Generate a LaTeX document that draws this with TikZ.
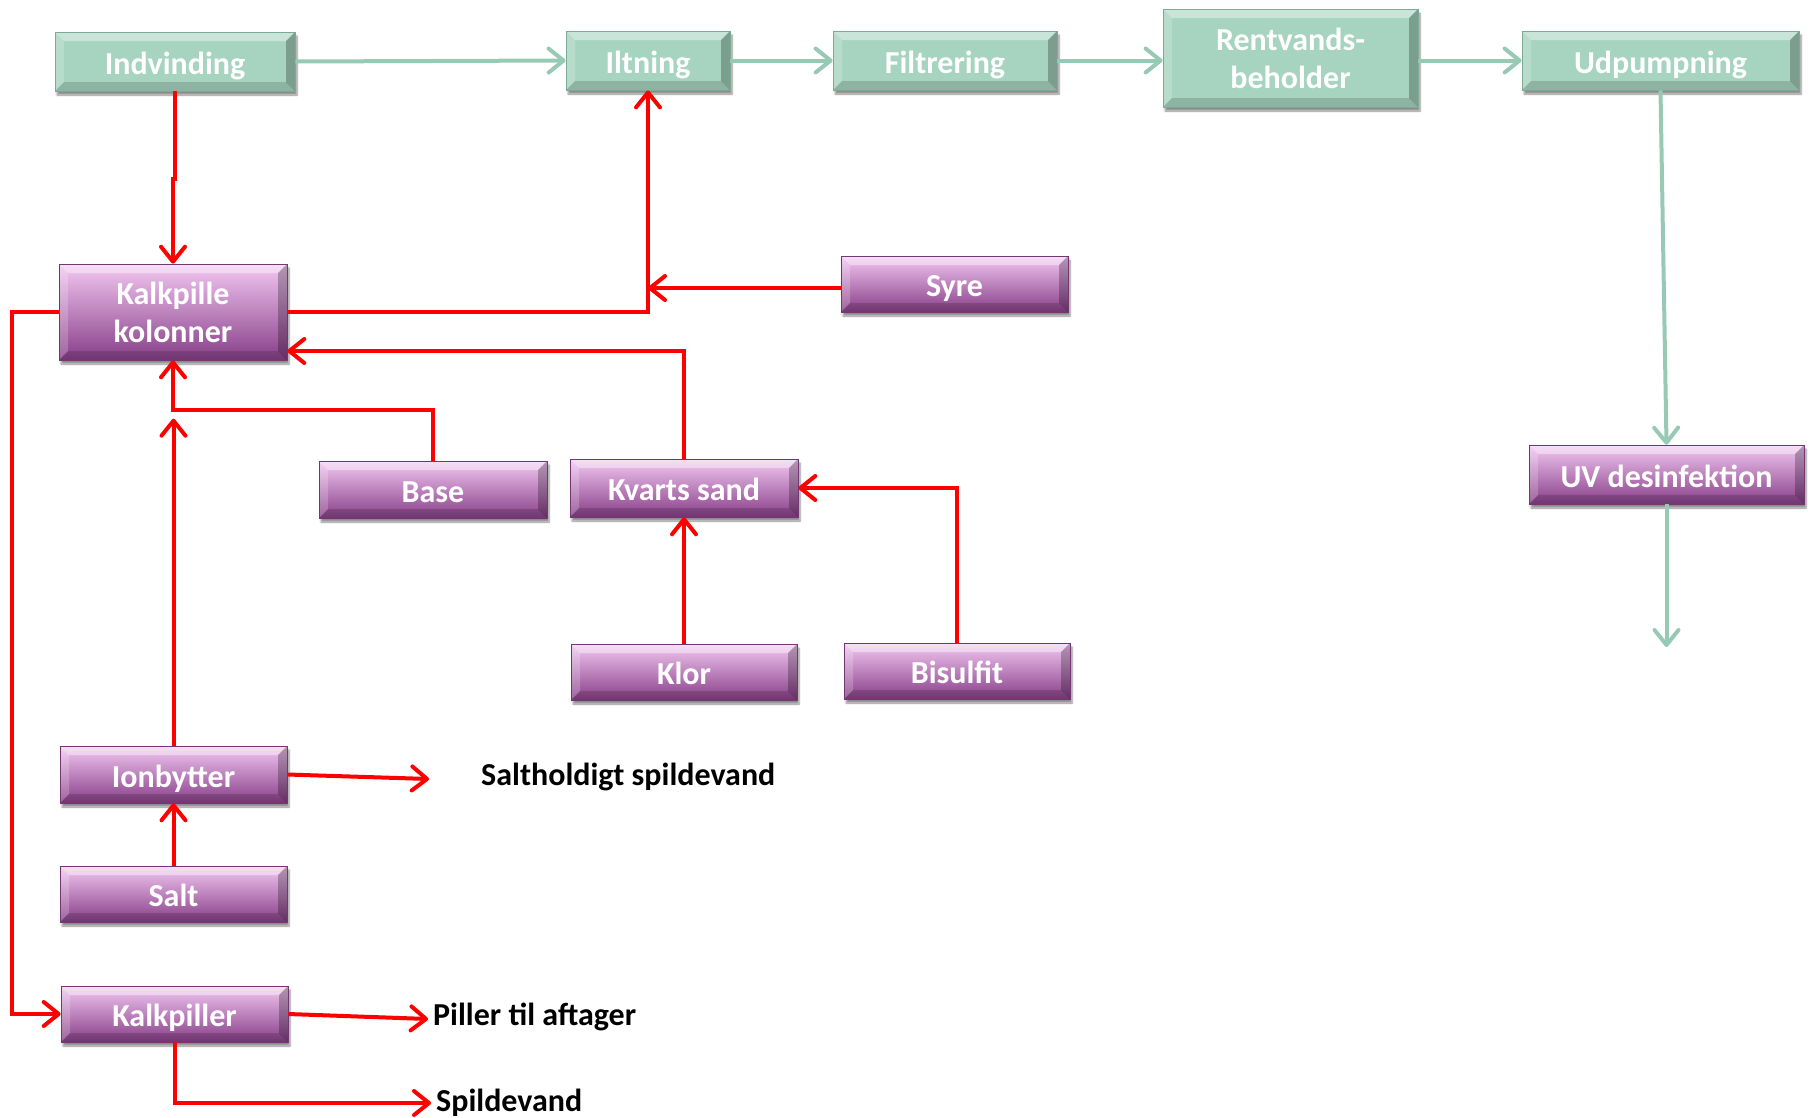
\documentclass[tikz,border=0pt]{standalone}
\usepackage{fontspec}
\setmainfont{Carlito}
\usetikzlibrary{arrows.meta,shadows.blur,calc}

\definecolor{boxgreen}{RGB}{166,212,192}
\definecolor{boxgreenedge}{RGB}{125,170,152}
\definecolor{flowgreen}{RGB}{150,202,180}
\definecolor{purptop}{RGB}{242,200,242}
\definecolor{purpbot}{RGB}{135,62,135}
\definecolor{purpedge}{RGB}{115,55,115}
\definecolor{flowred}{RGB}{255,0,0}

\tikzset{
  bevel/.style={
    path picture={
      \fill[white,opacity=.40]
        (path picture bounding box.north west) -- (path picture bounding box.north east)
        -- ([xshift=-9pt,yshift=-9pt]path picture bounding box.north east)
        -- ([xshift=9pt,yshift=-9pt]path picture bounding box.north west) -- cycle;
      \fill[white,opacity=.20]
        (path picture bounding box.north west) -- ([xshift=9pt,yshift=-9pt]path picture bounding box.north west)
        -- ([xshift=9pt,yshift=9pt]path picture bounding box.south west)
        -- (path picture bounding box.south west) -- cycle;
      \fill[black,opacity=.15]
        (path picture bounding box.south west) -- (path picture bounding box.south east)
        -- ([xshift=-9pt,yshift=9pt]path picture bounding box.south east)
        -- ([xshift=9pt,yshift=9pt]path picture bounding box.south west) -- cycle;
      \fill[black,opacity=.25]
        (path picture bounding box.north east) -- ([xshift=-9pt,yshift=-9pt]path picture bounding box.north east)
        -- ([xshift=-9pt,yshift=9pt]path picture bounding box.south east)
        -- (path picture bounding box.south east) -- cycle;
    }},
  boxbase/.style={rectangle, bevel, text=white, align=center, inner sep=2pt,
    font=\fontsize{32}{38}\selectfont\bfseries,
    blur shadow={shadow xshift=2pt, shadow yshift=-4pt, shadow blur steps=6, shadow opacity=45}},
  oneline/.style={text height=25pt, text depth=0pt},
  gbox/.style={boxbase, fill=boxgreen, draw=boxgreenedge, line width=0.8pt},
  pbox/.style={boxbase, top color=purptop, bottom color=purpbot, draw=purpedge, line width=0.6pt},
  outlabel/.style={anchor=west, inner sep=0pt, font=\fontsize{32}{38}\selectfont\bfseries},
  gflow/.style={draw=flowgreen, line width=4pt, -{Straight Barb[length=15pt,width=24pt,round]}},
  rflow/.style={draw=flowred, line width=4pt, -{Straight Barb[length=15pt,width=24pt,round]}},
}

\begin{document}
\begin{tikzpicture}[x=1pt,y=-1pt]
\useasboundingbox (0,0) rectangle (1812,1117);

% main water line
\node[gbox, oneline, minimum width=240pt, minimum height=59pt] (ind) at (175,61.5) {Indvinding};
\node[gbox, oneline, minimum width=164pt, minimum height=59pt] (ilt) at (648,60.5) {Iltning};
\node[gbox, oneline, minimum width=224pt, minimum height=59pt] (fil) at (945,60.5) {Filtrering};
\node[gbox, minimum width=255pt, minimum height=98pt] (ren) at (1290.5,58) {Rentvands-\\beholder};
\node[gbox, oneline, minimum width=277pt, minimum height=59pt] (udp) at (1660.5,60.5) {Udpumpning};

% treatment units
\node[pbox, minimum width=228pt, minimum height=96pt] (kkol) at (173,312) {Kalkpille\\kolonner};
\node[pbox, oneline, minimum width=227pt, minimum height=56pt] (syre) at (954.5,284) {Syre};
\node[pbox, oneline, minimum width=228pt, minimum height=57pt] (base) at (433,489.5) {Base};
\node[pbox, oneline, minimum width=228pt, minimum height=58pt] (kvarts) at (684,488) {Kvarts sand};
\node[pbox, oneline, minimum width=226pt, minimum height=56pt] (klor) at (684,672) {Klor};
\node[pbox, oneline, minimum width=226pt, minimum height=56pt] (bis) at (957,671) {Bisulfit};
\node[pbox, oneline, minimum width=227pt, minimum height=57pt] (ion) at (173.5,774.5) {Ionbytter};
\node[pbox, oneline, minimum width=227pt, minimum height=56pt] (salt) at (173.5,894) {Salt};
\node[pbox, oneline, minimum width=227pt, minimum height=56pt] (kalk) at (174.5,1014) {Kalkpiller};
\node[pbox, oneline, minimum width=275pt, minimum height=59pt] (uv) at (1666.5,474.5) {UV desinfektion};

% outlet labels
\node[outlabel] (saltlbl) at (481,777) {Saltholdigt spildevand};
\node[outlabel] (pil) at (433,1017) {Piller til aftager};
\node[outlabel] (spl) at (436,1103) {Spildevand};

\coordinate (saltend) at (429,779);
\coordinate (uvend) at (1666.5,647);
\coordinate (syrein) at ([yshift=-4pt]syre.west);

% green flow
\draw[gflow] (ind.east) -- (ilt.west);
\draw[gflow] (ilt.east) -- (fil.west);
\draw[gflow] (fil.east) -- (ren.west |- fil.east);
\draw[gflow] (ren.east |- udp.west) -- (udp.west);
\draw[gflow] (udp.south) -- (uv.north);
\draw[gflow] (uv.south) -- (uvend);

% red flow
\draw[rflow] (ind.south) -- ++(0,88) -| (kkol.north);
\draw[rflow] (kkol.east) -| (ilt.south);
\draw[rflow] (syrein) -- (ilt.south |- syrein);
\draw[rflow] (kvarts.north) |- ($(kkol.east)+(0,39)$);
\draw[rflow] (base.north) -- ++(0,-51) -| (kkol.south);
\draw[rflow] (ion.north) -- ++(0,-327);
\draw[rflow] (salt.north) -- (ion.south);
\draw[rflow] (ion.east) -- (saltend);
\draw[rflow] (klor.north) -- (kvarts.south);
\draw[rflow] (bis.north) |- (kvarts.east);
\draw[rflow] (kkol.west) -- ++(-47,0) |- (kalk.west);
\draw[rflow] (kalk.east) -- ([xshift=-5pt,yshift=-2pt]pil.west);
\draw[rflow] (kalk.south) |- ([xshift=-5pt]spl.west);
\end{tikzpicture}
\end{document}
